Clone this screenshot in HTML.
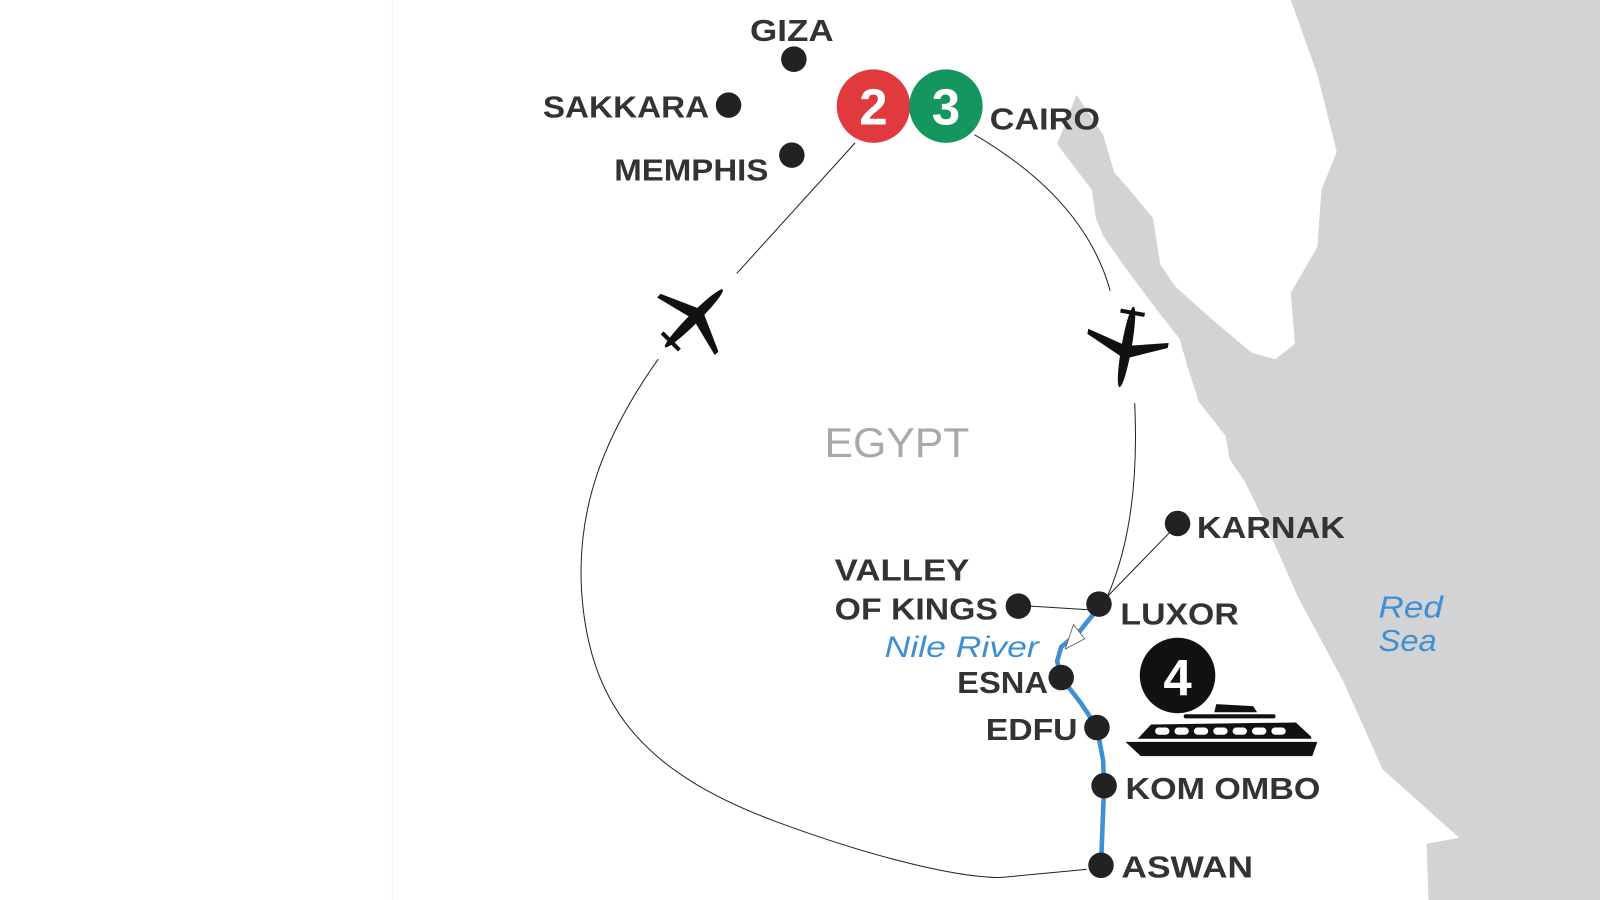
<!DOCTYPE html>
<html><head><meta charset="utf-8"><style>
html,body{margin:0;padding:0;background:#fff;}
svg{display:block;}
.l{font-family:"Liberation Sans",sans-serif;font-weight:bold;fill:#333;font-size:30px;}
.n{font-family:"Liberation Sans",sans-serif;font-weight:bold;fill:#fff;font-size:50px;}
</style></head><body>
<svg width="1600" height="900" viewBox="0 0 1568 882" xmlns="http://www.w3.org/2000/svg">
<rect width="1568" height="882" fill="#fff"/>
<line x1="384.5" y1="0" x2="384.5" y2="882" stroke="#f0f0f0" stroke-width="1"/>
<path fill="#d1d3d4" d="M1265,0 L1568,0 L1568,882 L1400,882 L1398,827 L1430,821 L1355,754 L1317,669 L1272,585 L1242,517 L1220,472 L1205,450 L1201,427 L1175,394 L1164,360 L1156,332 L1134,304 L1104,264 L1081,231 L1074,214 L1070,186 L1044,152 L1036,141 L1055,93 L1081,132 L1092,169 L1107,186 L1130,214 L1137,259 L1152,281 L1190,315 L1227,346 L1250,352 L1269,337 L1265,287 L1291,242 L1295,186 L1310,149 L1291,73 Z"/>
<!-- routes -->
<g fill="none" stroke="#222" stroke-width="1">
<path d="M838,140 L722,268"/>
<path d="M645,352 C590,430 565,500 570,580 C578,700 640,760 760,805 C860,842 940,860 980,860 L1065,852"/>
<path d="M955,132 C1020,170 1070,220 1088,285"/>
<path d="M1112,395 C1116,480 1105,540 1085,585"/>
<path d="M1080,590 L1150,518"/>
<path d="M1010,594 L1075,598"/>
</g>
<path d="M1077,595 L1057,620 L1040,634 L1036,648 L1040,664 L1060,690 L1075,713 L1081,745 L1082,770 L1079,848" fill="none" stroke="#3f8fd2" stroke-width="4.5" stroke-linejoin="round"/>
<polygon points="1052,612 1063,626 1044,636" fill="#fff" stroke="#555" stroke-width="0.8"/>
<!-- dots -->
<g fill="#222">
<circle cx="778" cy="58" r="12.5"/><circle cx="714" cy="103" r="12.5"/><circle cx="776" cy="152" r="12.5"/>
<circle cx="1154" cy="513" r="12.5"/><circle cx="998" cy="594" r="12.5"/><circle cx="1077" cy="592" r="12.5"/>
<circle cx="1040" cy="664" r="12.5"/><circle cx="1075" cy="713" r="12.5"/><circle cx="1082" cy="770" r="12.5"/><circle cx="1079" cy="848" r="12.5"/>
</g>
<circle cx="856" cy="104" r="36" fill="#e0393e"/>
<circle cx="927" cy="104" r="36" fill="#15965f"/>
<text class="n" x="856" y="122" text-anchor="middle">2</text>
<text class="n" x="927" y="122" text-anchor="middle">3</text>
<circle cx="1154" cy="662" r="37" fill="#111"/>
<text class="n" x="1154" y="681" text-anchor="middle" font-size="54">4</text>
<!-- planes -->
<g id="pl" fill="#111">
</g>
<g transform="translate(680,312) rotate(45)" fill="#111">
<ellipse cx="0" cy="0" rx="5" ry="40"/>
<polygon points="-40,6 -4,-10 4,-10 40,6 40,11 4,2 -4,2 -40,11"/>
<rect x="-12" y="30" width="24" height="4"/>
</g>
<g transform="translate(1104,340) rotate(190)" fill="#111">
<ellipse cx="0" cy="0" rx="5" ry="40"/>
<polygon points="-40,6 -4,-10 4,-10 40,6 40,11 4,2 -4,2 -40,11"/>
<rect x="-12" y="32" width="24" height="4"/>
</g>
<!-- ship -->
<g fill="#111">
<path d="M1103,727 L1291,727 L1286,741 L1118,741 Z"/>
<path d="M1115,724 L1128,710 L1270,708 L1285,722 L1285,724 Z"/>
<rect x="1160" y="700" width="90" height="4" rx="2"/>
<path d="M1190,698 L1192,690 L1228,692 L1232,698 Z"/>
</g>
<g fill="#fff">
<rect x="1132" y="713" width="14" height="7" rx="3.5"/><rect x="1151" y="713" width="14" height="7" rx="3.5"/>
<rect x="1170" y="713" width="14" height="7" rx="3.5"/><rect x="1189" y="713" width="14" height="7" rx="3.5"/>
<rect x="1208" y="713" width="14" height="7" rx="3.5"/><rect x="1227" y="713" width="14" height="7" rx="3.5"/>
<rect x="1246" y="713" width="14" height="7" rx="3.5"/>
</g>
<!-- labels -->
<text class="l" x="735" y="40" textLength="82" lengthAdjust="spacingAndGlyphs">GIZA</text>
<text class="l" x="532" y="115" textLength="163" lengthAdjust="spacingAndGlyphs">SAKKARA</text>
<text class="l" x="602" y="177" textLength="151" lengthAdjust="spacingAndGlyphs">MEMPHIS</text>
<text class="l" x="970" y="127" textLength="108" lengthAdjust="spacingAndGlyphs">CAIRO</text>
<text x="808" y="448" font-family="Liberation Sans,sans-serif" font-size="41" fill="#a7a9ac" textLength="142" lengthAdjust="spacingAndGlyphs">EGYPT</text>
<text class="l" x="1173" y="527" textLength="145" lengthAdjust="spacingAndGlyphs">KARNAK</text>
<text class="l" x="818" y="569" textLength="132" lengthAdjust="spacingAndGlyphs">VALLEY</text>
<text class="l" x="818" y="607" textLength="160" lengthAdjust="spacingAndGlyphs">OF KINGS</text>
<text class="l" x="1098" y="612" textLength="116" lengthAdjust="spacingAndGlyphs">LUXOR</text>
<text x="867" y="644" font-family="Liberation Sans,sans-serif" font-style="italic" font-size="29" fill="#3f8fd2" textLength="151" lengthAdjust="spacingAndGlyphs">Nile River</text>
<text class="l" x="938" y="679" textLength="89" lengthAdjust="spacingAndGlyphs">ESNA</text>
<text class="l" x="966" y="725" textLength="90" lengthAdjust="spacingAndGlyphs">EDFU</text>
<text class="l" x="1103" y="783" textLength="191" lengthAdjust="spacingAndGlyphs">KOM OMBO</text>
<text class="l" x="1099" y="860" textLength="129" lengthAdjust="spacingAndGlyphs">ASWAN</text>
<text x="1351" y="605" font-family="Liberation Sans,sans-serif" font-style="italic" font-size="30" fill="#3f8fd2" textLength="63" lengthAdjust="spacingAndGlyphs">Red</text>
<text x="1351" y="638" font-family="Liberation Sans,sans-serif" font-style="italic" font-size="30" fill="#3f8fd2" textLength="57" lengthAdjust="spacingAndGlyphs">Sea</text>
</svg>
</body></html>
